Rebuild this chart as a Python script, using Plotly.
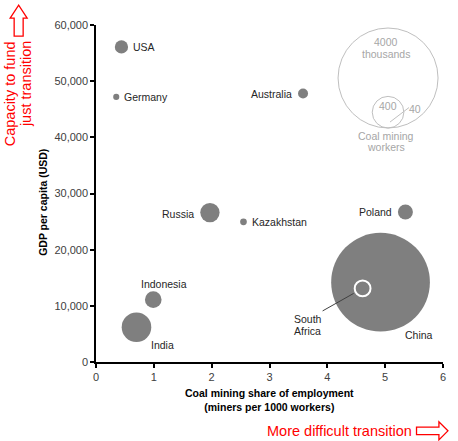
"""Coal mining employment vs GDP per capita bubble chart"""
import math
import plotly.graph_objects as go

# data
countries = ["USA", "Germany", "Australia", "Russia", "Kazakhstan", "Poland",
             "Indonesia", "India", "China", "South Africa"]
miners_per_1000 = [0.44, 0.35, 3.58, 1.97, 2.55, 5.35, 0.99, 0.70, 4.92, 4.61]
gdp_per_capita = [56100, 47200, 47800, 26600, 24950, 26700, 11100, 6200, 14200, 13100]
coal_workers_k = [70, 15, 40, 150, 18, 90, 110, 350, 3900, 100]

legend_values = [4000, 400]
legend_small = 40

SIZEREF = 0.8   # 4000 -> 100 px across
GREY = "#7f7f7f"
TEXT = "#262626"
LIGHT = "#a6a6a6"
RED = "#ff0000"
FONT = "Liberation Sans, Arial, sans-serif"


def diameter(v):
    # same rule plotly uses for sizemode='area'
    return math.sqrt(2 * v / SIZEREF)


# label placement: xanchor, xshift, yshift (pixels from the bubble centre)
label_pos = {
    "USA": ("left", 10, 0),
    "Germany": ("left", 6, 0),
    "Australia": ("right", -9.5, 0),
    "Russia": ("right", -14, -1.5),
    "Kazakhstan": ("left", 6.5, 0),
    "Poland": ("right", -11.5, 0),
    "Indonesia": ("center", 11, 16),
    "India": ("left", 13, -17.5),
    "China": ("left", 22, -53),
}

fig = go.Figure()

line_w = [2 if c == "South Africa" else 0 for c in countries]
fig.add_trace(go.Scatter(
    x=miners_per_1000,
    y=gdp_per_capita,
    mode="markers",
    marker=dict(size=coal_workers_k, sizemode="area", sizeref=SIZEREF,
                color=GREY, opacity=1,
                line=dict(width=line_w, color="white")),
    hoverinfo="skip",
    showlegend=False,
))

annotations = []
for c, x, y in zip(countries, miners_per_1000, gdp_per_capita):
    if c in label_pos:
        xa, dx, dy = label_pos[c]
        annotations.append(dict(x=x, y=y, text=c, showarrow=False,
                                xanchor=xa, yanchor="middle",
                                xshift=dx, yshift=dy,
                                font=dict(size=10.5, color=TEXT)))

# South Africa label with leader line
sa = countries.index("South Africa")
sa_x, sa_y = miners_per_1000[sa], gdp_per_capita[sa]
for txt, dy in [("South", -30.5), ("Africa", -42.5)]:
    annotations.append(dict(x=sa_x, y=sa_y, text=txt, showarrow=False,
                            xanchor="left", yanchor="middle",
                            xshift=-71, yshift=dy,
                            font=dict(size=10.5, color=TEXT)))

shapes = [dict(type="line", xref="x", yref="y",
               xsizemode="pixel", ysizemode="pixel",
               xanchor=sa_x, yanchor=sa_y,
               x0=-40, y0=-22.5, x1=-9, y1=-5,
               line=dict(color="#404040", width=1))]

# size key (nested circles sharing the bottom point)
key_x, key_y = 5.05, 41660
for v in legend_values:
    d = diameter(v)
    shapes.append(dict(type="circle", xref="x", yref="y",
                       xsizemode="pixel", ysizemode="pixel",
                       xanchor=key_x, yanchor=key_y,
                       x0=-d / 2, x1=d / 2, y0=0, y1=d,
                       line=dict(color="#bfbfbf", width=1)))
shapes.append(dict(type="line", xref="x", yref="y",
                   xsizemode="pixel", ysizemode="pixel",
                   xanchor=key_x, yanchor=key_y,
                   x0=2, y0=6, x1=21, y1=20.5,
                   line=dict(color="#bfbfbf", width=1)))

key_text = [
    (f"{legend_values[0]}", -2, 86),
    ("thousands", -2, 74),
    (f"{legend_values[1]}", 0, 22),
    (f"{legend_small}", 27, 19),
    ("Coal mining", -2, -8),
    ("workers", -2, -19),
]
for txt, dx, dy in key_text:
    annotations.append(dict(x=key_x, y=key_y, text=txt, showarrow=False,
                            xanchor="center", yanchor="middle",
                            xshift=dx, yshift=dy,
                            font=dict(size=10.5, color=LIGHT)))

# axis titles
annotations.append(dict(x=0.5, y=-0.1127, xref="paper", yref="paper",
                        text="<b>Coal mining share of employment<br>"
                             "(miners per 1000 workers)</b>",
                        showarrow=False, xanchor="center", yanchor="middle",
                        font=dict(size=10.5, color="black")))
annotations.append(dict(x=-0.151, y=0.474, xref="paper", yref="paper",
                        text="<b>GDP per capita (USD)</b>", textangle=-90,
                        showarrow=False, xanchor="center", yanchor="middle",
                        font=dict(size=10.5, color="black")))

# red callouts
annotations.append(dict(x=0.915, y=-0.206, xref="paper", yref="paper",
                        text="More difficult transition", showarrow=False,
                        xanchor="right", yanchor="middle",
                        font=dict(size=14.5, color=RED)))
for txt, x, y in [("Capacity to fund", -0.2486, 0.7966),
                  ("just transition", -0.2029, 0.8234)]:
    annotations.append(dict(x=x, y=y, xref="paper", yref="paper",
                            text=txt, textangle=-90, showarrow=False,
                            xanchor="center", yanchor="middle",
                            font=dict(size=14.5, color=RED)))

# outlined block arrows
shapes.append(dict(type="path", xref="paper", yref="paper",
                   xsizemode="pixel", ysizemode="pixel",
                   xanchor=-0.2229, yanchor=0.967,
                   path="M -4.5,0 L 4.5,0 L 4.5,18 L 8.5,18 L 0,31 "
                        "L -8.5,18 L -4.5,18 Z",
                   line=dict(color=RED, width=1.3), fillcolor="white"))
shapes.append(dict(type="path", xref="paper", yref="paper",
                   xsizemode="pixel", ysizemode="pixel",
                   xanchor=0.9237, yanchor=-0.2043,
                   path="M 0,-3.7 L 0,3.7 L 22.4,3.7 L 22.4,9 L 31.4,0 "
                        "L 22.4,-9 L 22.4,-3.7 Z",
                   line=dict(color=RED, width=1.3), fillcolor="white"))

fig.update_layout(
    width=458, height=441,
    margin=dict(l=96, r=12, t=25, b=79),
    paper_bgcolor="white",
    plot_bgcolor="white",
    font=dict(family=FONT, size=11, color="#404040"),
    showlegend=False,
    annotations=annotations,
    shapes=shapes,
    xaxis=dict(range=[0, 6], dtick=1, showgrid=False, zeroline=False,
               showline=True, linecolor="black", linewidth=1.5,
               ticks="outside", ticklen=4, tickcolor="black", tickwidth=1.5,
               tickfont=dict(size=11, color="#404040")),
    yaxis=dict(range=[0, 60000], dtick=10000, tickformat=",",
               showgrid=False, zeroline=False,
               showline=True, linecolor="black", linewidth=1.5,
               ticks="outside", ticklen=4, tickcolor="black", tickwidth=1.5,
               tickfont=dict(size=11, color="#404040")),
)

# page body has an 8px default margin; drop it so the figure fills the window
fig.write_html("out.html", config={"displayModeBar": False},
               post_script="document.body.style.margin='0';")
